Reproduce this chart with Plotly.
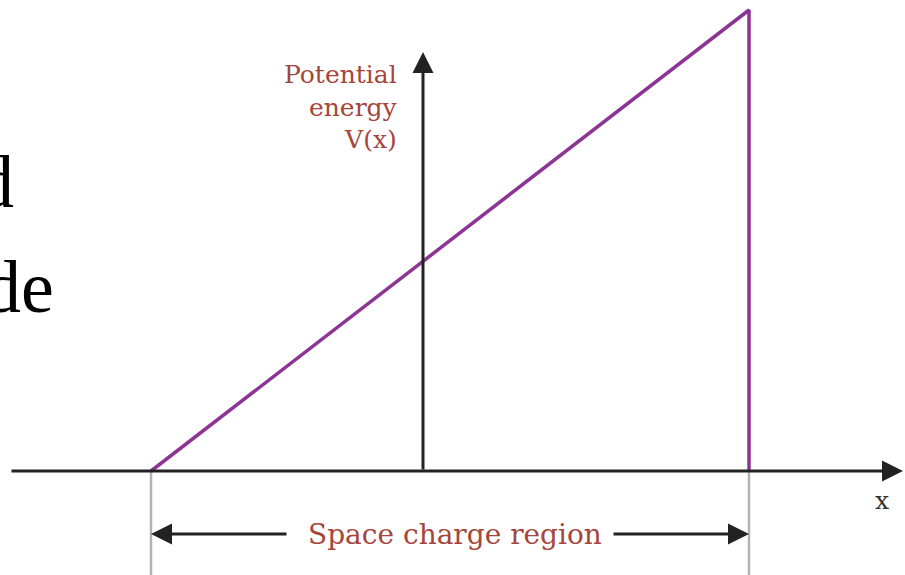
import plotly.graph_objects as go

# ---- data (diagram units) ----
x_p = -2.72          # left edge of space charge region
x_n = 3.26           # right edge of space charge region
V_max = 4.61         # potential energy at x_n
potential_x = [x_p, x_n, x_n]
potential_y = [0.0, V_max, 0.0]

x_axis_start, x_axis_end = -4.13, 4.80
y_axis_top = 4.19
bracket_y = -0.63
bracket_bottom = -1.04
left_arrow_tail = -1.35
right_arrow_tail = 1.89

x_range = [-4.23, 4.82]
y_range = [-1.04, 4.71]

label_potential = "Potential<br>energy<br>V(x)"
label_region = "Space charge region"
label_x = "x"
side_texts = ["d", "de"]

ink = "#222222"
red = "#a4463c"
purple = "#8c3594"
grey = "#b3b3b3"

fig = go.Figure()

# grey boundary lines of the space charge region
for xb in (x_p, x_n):
    fig.add_trace(go.Scatter(x=[xb, xb], y=[0, bracket_bottom], mode="lines",
                             line=dict(color=grey, width=2.5), hoverinfo="skip",
                             showlegend=False))

# potential energy profile
fig.add_trace(go.Scatter(x=potential_x, y=potential_y, mode="lines",
                         line=dict(color=purple, width=3.5), hoverinfo="skip",
                         showlegend=False))

def arrow(xh, yh, xt, yt):
    fig.add_annotation(x=xh, y=yh, ax=xt, ay=yt, xref="x", yref="y",
                       axref="x", ayref="y", text="", showarrow=True,
                       arrowhead=2, arrowsize=1.4, arrowwidth=3,
                       arrowcolor=ink, standoff=0)

# axes
arrow(x_axis_end, 0, x_axis_start, 0)
arrow(0, y_axis_top, 0, 0)
# space charge region bracket
arrow(x_p, bracket_y, left_arrow_tail, bracket_y)
arrow(x_n, bracket_y, right_arrow_tail, bracket_y)

serif = "DejaVu Serif"
fig.add_annotation(x=-0.23, y=3.645, xref="x", yref="y", text=label_potential,
                   showarrow=False, xanchor="right", yanchor="middle", align="right",
                   font=dict(family=serif, size=25, color=red))
fig.add_annotation(x=0.32, y=bracket_y, xref="x", yref="y", text=label_region,
                   showarrow=False, xanchor="center", yanchor="middle",
                   font=dict(family=serif, size=28, color=red))
fig.add_annotation(x=4.59, y=-0.29, xref="x", yref="y", text=label_x,
                   showarrow=False, xanchor="center", yanchor="middle",
                   font=dict(family=serif, size=25, color="#333333"))

# cropped slide text at the left edge
fig.add_annotation(x=16 / 905, y=1 - 182 / 575, xref="paper", yref="paper",
                   text=side_texts[0], showarrow=False, xanchor="right",
                   yanchor="middle", font=dict(family="Liberation Serif", size=74, color="#000000"))
fig.add_annotation(x=56 / 905, y=1 - 287 / 575, xref="paper", yref="paper",
                   text=side_texts[1], showarrow=False, xanchor="right",
                   yanchor="middle", font=dict(family="Liberation Serif", size=74, color="#000000"))

fig.update_layout(width=905, height=575, margin=dict(l=0, r=0, t=0, b=0),
                  paper_bgcolor="white", plot_bgcolor="white",
                  xaxis=dict(range=x_range, visible=False, fixedrange=True),
                  yaxis=dict(range=y_range, visible=False, fixedrange=True))

fig.write_html("out.html", config={"displayModeBar": False},
               post_script="document.body.style.margin='0';")
